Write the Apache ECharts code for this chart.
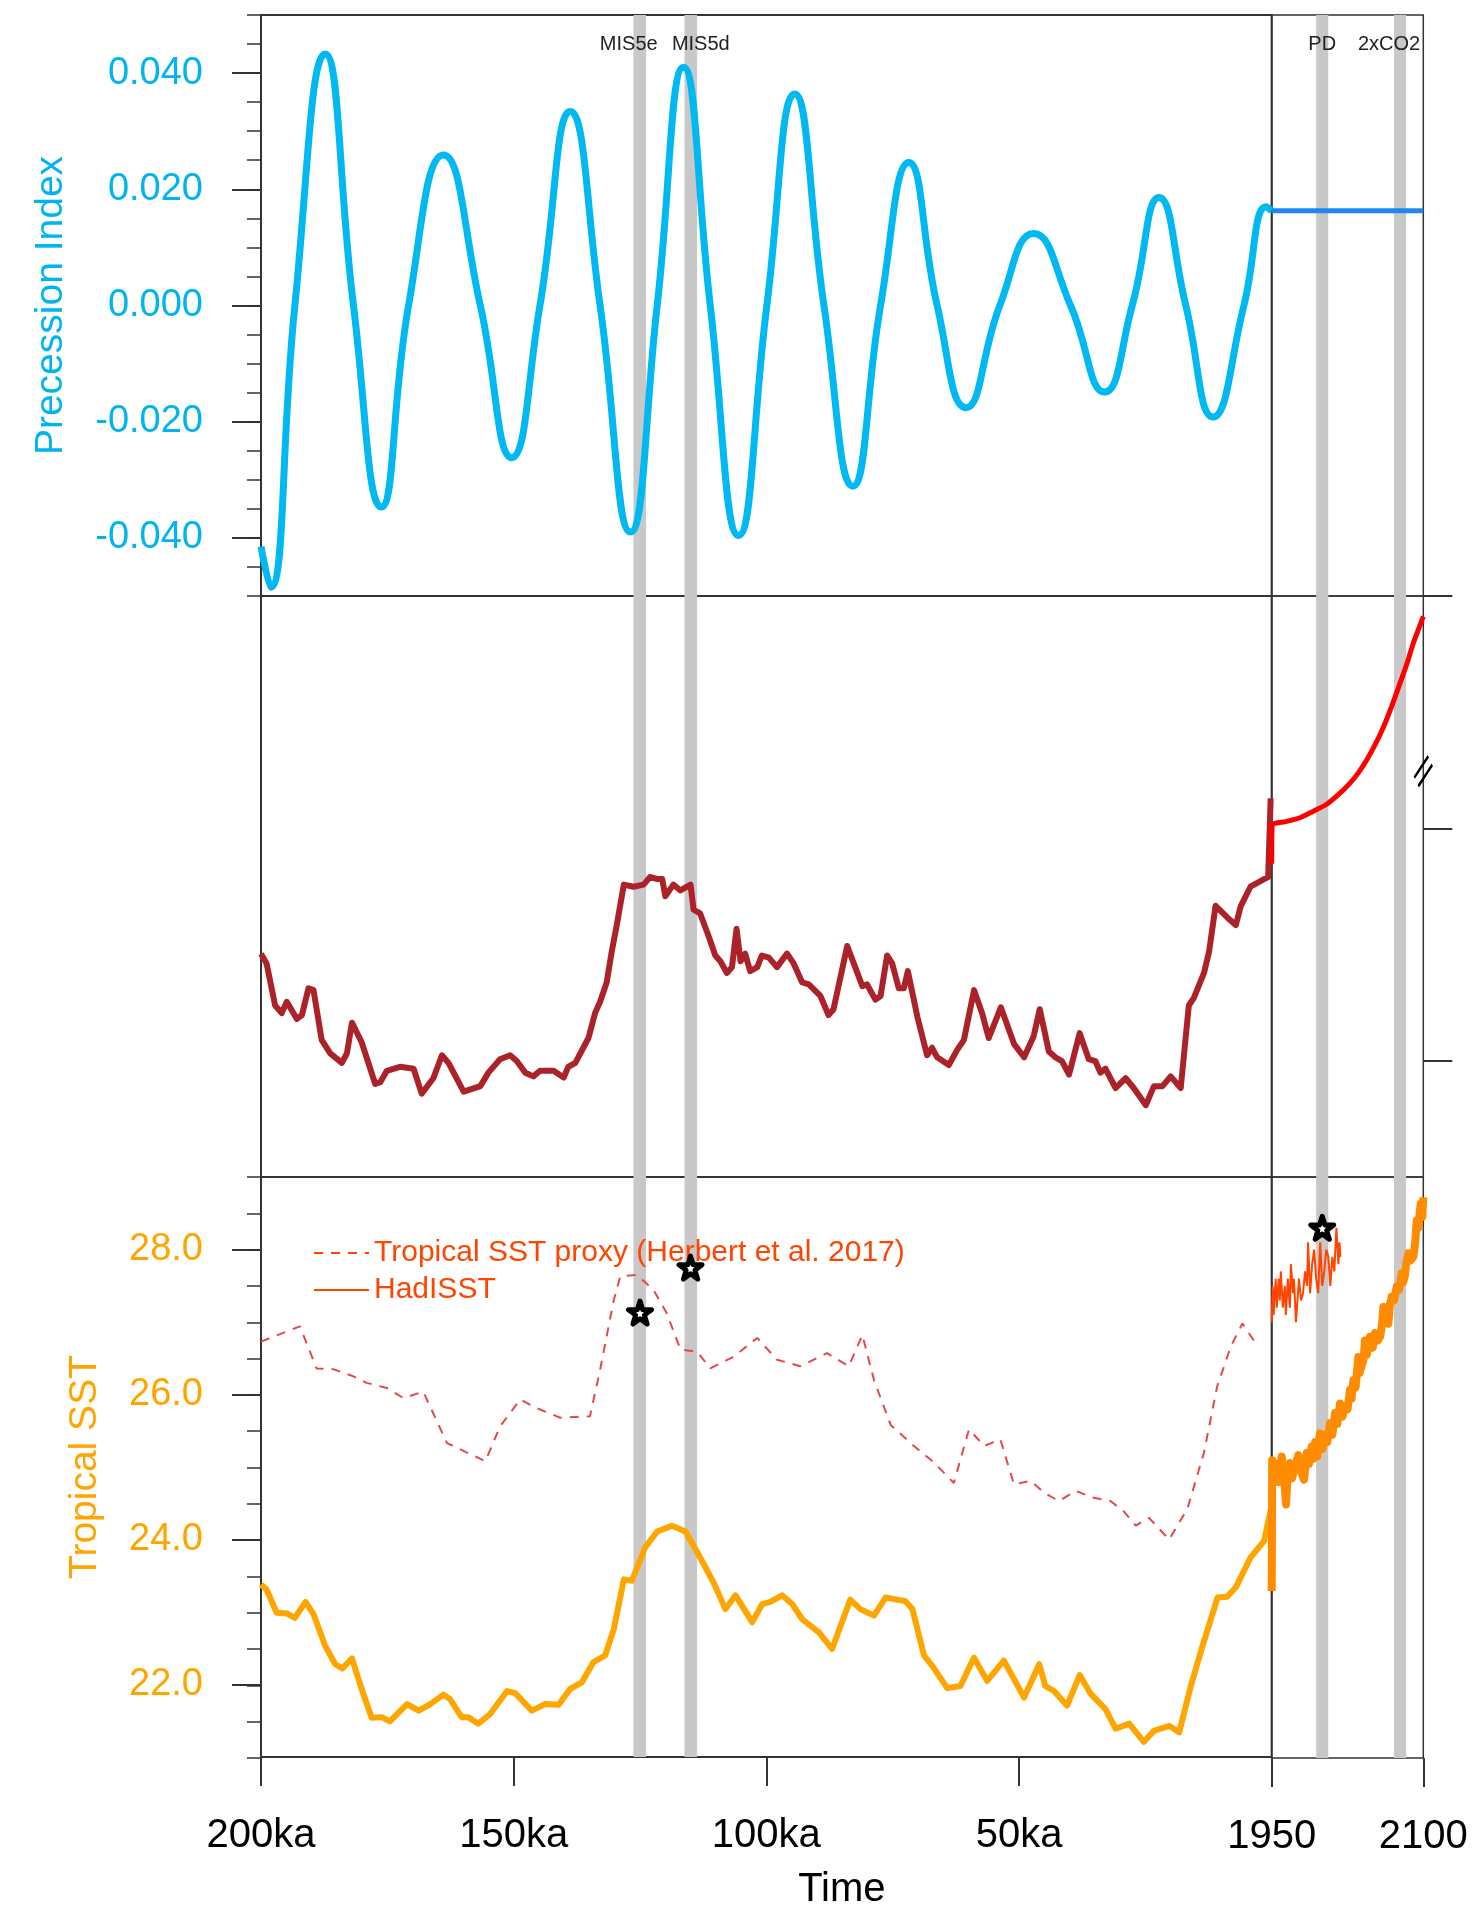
<!DOCTYPE html>
<html>
<head>
<meta charset="utf-8">
<script src="https://cdn.jsdelivr.net/npm/echarts@6/dist/echarts.min.js"></script>
<style>
html,body{margin:0;padding:0;background:#fff;}
#chart{width:1481px;height:1911px;}
</style>
</head>
<body>
<div id="chart"></div>
<script>
// ---------------- DATA ----------------
// Precession index, paleo part: [age ka, value]
const precession = [
  [200,-0.0415],[198.1,-0.0485],[193.3,0],[187.3,0.0433],[181.7,0],[176.2,-0.0347],
  [170.8,0],[163.9,0.0259],[156.6,0],[150.4,-0.0262],[144.8,0],[138.8,0.0334],
  [132.9,0],[126.9,-0.0390],[121.6,0],[116.4,0.0410],[111.1,0],[105.5,-0.0396],
  [99.9,0],[94.4,0.0364],[88.6,0],[82.9,-0.0311],[77.4,0],[71.8,0.0246],
  [66.2,0],[60.5,-0.0176],[53.8,0],[47.1,0.0124],[39.8,0],[33.1,-0.0149],
  [27.6,0],[22.3,0.0186],[17.0,0],[11.6,-0.0192],[5.5,0],[1.1,0.0170],[0,0.0163]
];
// Precession, 1950-2100: [year, value]
const precessionFuture = [[1950,0.0163],[2100,0.0163]];

// Middle panel (unlabelled axis), paleo part: [age ka, value]
const co2Paleo = [
  [200,246.1],[198.9,241.9],[197.2,223.8],[195.9,220.5],[194.9,225.4],[192.9,218.0],[191.9,219.7],
  [190.6,231.2],[189.6,230.4],[188.0,209.0],[186.3,203.2],[184.0,199.1],[183.0,203.2],[182.0,216.4],
  [180.1,208.1],[177.4,190.0],[176.4,190.8],[175.1,195.7],[172.5,197.4],[169.8,196.6],[168.2,185.9],
  [165.9,192.5],[164.2,202.4],[162.9,199.1],[159.9,186.7],[156.6,189.1],[155.0,194.9],[152.7,200.7],
  [150.7,202.4],[149.4,199.9],[147.7,194.9],[146.1,193.3],[144.8,195.7],[142.1,195.7],[140.1,192.8],
  [139.2,197.4],[137.8,199.1],[135.2,209.8],[133.9,220.5],[132.9,225.4],[131.6,233.7],[130.6,246.9],
  [129.6,258.4],[128.2,275.8],[126.3,274.9],[124.3,275.8],[123.0,279.1],[121.6,278.2],[120.6,278.2],
  [120.0,270.8],[118.4,275.8],[117.0,273.3],[115.0,275.8],[114.4,265.0],[113.1,263.4],[111.4,253.5],
  [110.1,245.3],[109.1,242.8],[107.8,237.8],[106.8,240.3],[105.9,256.8],[105.1,242.8],[104.2,246.1],
  [103.2,238.6],[101.8,240.3],[100.9,245.3],[99.5,244.4],[97.9,240.3],[95.9,246.1],[94.6,241.9],
  [92.9,233.7],[91.6,232.9],[89.3,227.9],[87.7,219.7],[86.7,222.2],[84.0,249.4],[82.7,241.9],
  [81.0,232.1],[80.1,232.9],[78.4,226.3],[77.4,227.9],[76.1,245.3],[75.1,241.9],[73.8,231.2],
  [72.8,231.2],[72.0,238.6],[70.1,218.8],[68.2,202.4],[67.2,205.6],[66.2,201.5],[63.9,198.2],
  [62.2,204.8],[60.9,209.0],[58.9,230.4],[57.3,220.5],[56.0,209.8],[53.6,223.0],[51.0,207.3],
  [49.0,201.5],[47.1,210.6],[45.9,222.2],[44.1,204.0],[42.8,201.5],[41.5,199.9],[40.1,194.1],
  [38.0,211.9],[36.2,200.7],[34.9,199.9],[33.9,194.9],[32.9,196.6],[30.9,188.3],[28.9,192.5],
  [27.3,188.3],[24.9,180.9],[23.3,189.1],[21.6,189.1],[20.0,193.3],[18.0,188.3],[16.4,223.8],
  [15.4,227.1],[13.4,237.8],[12.4,246.9],[11.1,266.7],[8.8,261.7],[7.1,258.4],[6.1,266.7],
  [4.2,274.9],[1.5,278.2],[0.7,279.1],[0.2,312.9]
];
// Middle panel, 1950-2100: [year, value]
const co2Future = [
  [1950,284.8],[1950.4,301.0],[1964.8,303.0],[1978.0,304.6],[1991.2,307.4],[2004.4,310.4],
  [2015.9,314.5],[2027.5,319.5],[2035.7,323.9],[2044.0,329.4],[2052.2,335.9],[2060.4,343.4],
  [2068.7,352.5],[2076.9,362.4],[2083.6,370.6],[2090.1,379.7],[2095.0,385.4],[2100,391.2]
];
const co2TickValues = [200, 300, 400];
const co2BreakAt = [2100, 324.6];

// Tropical SST (model), paleo: [age ka, degC]
const sstPaleo = [
  [200,23.38],[198.9,23.31],[196.9,22.99],[194.9,22.98],[193.3,22.92],[191.2,23.14],[189.6,22.97],
  [187.3,22.53],[185.3,22.28],[183.9,22.22],[182.0,22.36],[180.1,21.94],[178.1,21.54],[176.1,21.55],
  [174.5,21.49],[171.1,21.73],[168.8,21.64],[166.5,21.73],[163.9,21.86],[162.6,21.80],[160.3,21.55],
  [159.0,21.55],[157.0,21.46],[154.7,21.59],[151.3,21.91],[149.7,21.88],[146.4,21.64],[143.8,21.73],
  [141.1,21.72],[138.8,21.94],[136.5,22.03],[134.2,22.31],[131.9,22.40],[130.2,22.76],[128.2,23.45],
  [126.6,23.43],[124.0,23.89],[121.6,24.11],[118.7,24.19],[116.0,24.11],[113.4,23.79],[110.4,23.40],
  [108.1,23.04],[106.1,23.23],[102.8,22.86],[100.8,23.11],[99.2,23.14],[96.9,23.23],[94.9,23.11],
  [92.9,22.90],[89.6,22.72],[87.0,22.49],[85.3,22.81],[83.4,23.17],[81.4,23.04],[78.7,22.95],
  [76.4,23.20],[72.5,23.15],[71.1,23.04],[68.8,22.40],[67.2,22.26],[64.2,21.95],[61.6,21.98],
  [58.9,22.37],[56.3,22.05],[53.0,22.33],[49.0,21.82],[46.0,22.28],[44.8,21.98],[43.1,21.91],
  [40.5,21.71],[38.0,22.13],[35.8,21.87],[32.9,21.66],[30.9,21.39],[28.2,21.46],[25.3,21.21],
  [23.3,21.36],[20.3,21.43],[18.3,21.34],[16.0,21.98],[13.7,22.53],[10.7,23.20],[8.8,23.21],
  [7.1,23.34],[4.2,23.75],[1.5,23.98],[0.2,24.41]
];
// Tropical SST proxy (Herbert et al. 2017): [age ka, degC]
const sstProxy = [
  [200,26.73],[192.3,26.94],[189.0,26.36],[185.7,26.35],[181.7,26.25],[179.1,26.16],[175.1,26.09],
  [171.8,25.95],[167.9,26.04],[163.2,25.33],[155.6,25.08],[152.7,25.56],[148.7,25.93],[145.4,25.81],
  [140.8,25.68],[134.9,25.70],[132.9,26.34],[130.2,27.30],[128.9,27.63],[125.6,27.65],[122.3,27.44],
  [119.7,27.12],[117.0,26.62],[113.7,26.59],[111.1,26.36],[106.5,26.52],[101.8,26.78],[97.9,26.48],
  [93.3,26.39],[88.0,26.57],[83.7,26.39],[81.0,26.82],[78.7,26.20],[75.4,25.58],[70.8,25.29],
  [66.8,25.06],[62.9,24.78],[59.9,25.52],[56.9,25.29],[53.7,25.38],[51.0,24.76],[47.7,24.81],
  [45.1,24.65],[42.1,24.53],[38.8,24.67],[35.5,24.58],[31.9,24.53],[29.3,24.39],[26.9,24.19],
  [24.3,24.30],[20.3,24.00],[16.7,24.42],[13.4,25.20],[10.8,26.11],[8.1,26.66],[5.8,26.98],[3.2,26.71]
];
// Tropical SST (model), 1950-2100: [year, degC]
const sstModern = [
  [1950,23.30],[1950.5,25.10],[1953,24.85],[1955,25.05],[1957,24.80],[1959.9,25.15],[1962,24.90],
  [1964.2,24.49],[1966,24.95],[1968,25.06],[1970,24.85],[1973,25.00],[1976.4,25.17],[1979,24.95],
  [1982,24.83],[1984.7,25.20],[1987,25.05],[1989.6,25.29],[1991,25.12],[1993,25.35],[1995,25.15],
  [1997.8,25.47],[2000,25.25],[2002.8,25.45],[2005,25.35],[2007.7,25.61],[2010,25.45],[2012.7,25.75],
  [2015,25.60],[2017.6,25.88],[2020,25.70],[2022.5,25.85],[2025,25.80],[2027.5,26.07],[2029,25.95],
  [2030.8,26.20],[2033,26.10],[2035.7,26.52],[2037,26.30],[2039,26.40],[2041,26.50],[2042.3,26.75],
  [2044,26.55],[2047.3,26.80],[2050,26.65],[2052.2,26.85],[2055,26.75],[2057.2,26.80],[2059,26.95],
  [2060.5,27.21],[2063,27.00],[2065.4,26.98],[2067,27.25],[2068.7,27.35],[2071,27.30],[2073.7,27.49],
  [2076,27.45],[2078.6,27.67],[2080,27.55],[2081.9,27.65],[2083,27.80],[2085.2,27.95],[2087,27.85],
  [2090.1,27.90],[2092,28.10],[2093.5,28.40],[2095,28.30],[2097.4,28.63],[2099,28.45],[2100,28.72]
];
// HadISST: [year, degC]
const hadisst = [
  [1950,27.0],[1951,27.5],[1952,27.1],[1953,27.4],[1954,27.6],[1955,27.2],[1957,27.6],[1958,27.3],
  [1959,27.7],[1961,27.2],[1963,27.5],[1964,27.1],[1966,27.6],[1968,27.2],[1969,27.8],[1971,27.4],
  [1972,27.6],[1974,27.0],[1976,27.4],[1977,27.6],[1979,27.3],[1981,27.4],[1983,27.7],[1985,27.5],
  [1986,28.1],[1988,27.4],[1990,27.8],[1992,28.0],[1994,27.6],[1996,27.4],[1998,28.1],[2000,27.5],
  [2002,27.7],[2004,28.0],[2006,27.9],[2008,27.5],[2010,27.9],[2012,27.7],[2014,28.3],[2016,27.8],
  [2017,28.1],[2018,27.9]
];
// Star markers
const starsPaleo = [[125,27.13],[115,27.75]];
const starsModern = [[2000,28.30]];

// Shaded time slices
const paleoBandNames = ['MIS5e','MIS5d'];
const paleoBandRanges = [[123.8,126.3],[113.7,116.2]];
const modernBandNames = ['PD','2xCO2'];
const modernBandRanges = [[1994,2006],[2071,2083]];

// Axis ticks / labels
const precMajorTicks = [-0.04,-0.02,0,0.02,0.04];
const sstMajorTicks = [22,24,26,28];
const paleoTickStep = 50;   // ka
const modernTickStep = 150; // years

// ---------------- CHART ----------------
const FONT = '"Liberation Sans", Arial, Helvetica, sans-serif';
const LEFT = 261, WP = 1010.7, WM = 151.6, H = 581;
const TOPS = [15, 596, 1177];
const INK = '#333';
const BAND = '#c8c8c8';
const labelOffsets = {MIS5e:[-11,14], MIS5d:[10,14], PD:[0,14], '2xCO2':[-11,14]};
const NOLINE = {show: false, onZero: false};

function bandArea(names, ranges, withLabels, axisKey) {
  return {
    silent: true,
    itemStyle: {color: BAND, opacity: 1},
    label: {show: false},
    data: ranges.map((r, i) => [
      {
        [axisKey]: r[0],
        name: names[i],
        label: withLabels ? {
          show: true, position: 'insideTop', color: '#222', fontSize: 20,
          fontFamily: FONT, offset: labelOffsets[names[i]]
        } : {show: false}
      },
      {[axisKey]: r[1]}
    ])
  };
}

// grids 0-2: paleo part of each panel; grids 3-5: 1950-2100 part; grids 6-7: overlays for minor ticks
const grids = [];
for (let p = 0; p < 3; p++) {
  grids.push({left: LEFT, top: TOPS[p], width: WP, height: H, show: true,
    borderColor: INK, borderWidth: 2, backgroundColor: 'transparent'});
}
for (let p = 0; p < 3; p++) {
  grids.push({left: LEFT + WP, top: TOPS[p], width: WM, height: H, show: true,
    borderColor: INK, borderWidth: 1.5, backgroundColor: 'transparent'});
}
grids.push({left: LEFT, top: TOPS[0], width: WP, height: H, show: false});
grids.push({left: LEFT, top: TOPS[2], width: WP, height: H, show: false});

const xAxes = [];
for (let p = 0; p < 3; p++) {
  const bottom = p === 2;
  xAxes.push({
    type: 'value', gridIndex: p, inverse: true, min: 0, max: 200, interval: paleoTickStep,
    axisLine: NOLINE, splitLine: {show: false},
    axisTick: {show: bottom, length: 29, lineStyle: {color: INK, width: 2}},
    axisLabel: {show: bottom, margin: 59, fontSize: 40, color: '#000', fontFamily: FONT,
      formatter: v => v === 0 ? '' : v + 'ka'},
    name: bottom ? 'Time' : '', nameLocation: 'middle', nameGap: 113,
    nameTextStyle: {fontSize: 40, color: '#000', fontFamily: FONT, padding: [0, 0, 0, 151]}
  });
}
for (let p = 0; p < 3; p++) {
  const bottom = p === 2;
  xAxes.push({
    type: 'value', gridIndex: 3 + p, min: 1950, max: 2100, interval: modernTickStep,
    axisLine: NOLINE, splitLine: {show: false},
    axisTick: {show: bottom, length: 29, lineStyle: {color: INK, width: 2}},
    axisLabel: {show: bottom, margin: 59, fontSize: 40, color: '#000', fontFamily: FONT,
      formatter: v => String(v)}
  });
}
// overlay x axes (hidden)
xAxes.push({type: 'value', gridIndex: 6, inverse: true, min: 0, max: 200, show: false, axisLine: NOLINE});
xAxes.push({type: 'value', gridIndex: 7, inverse: true, min: 0, max: 200, show: false, axisLine: NOLINE});

const yAxes = [
  // 0: precession major (grid 0)
  {type: 'value', gridIndex: 0, min: -0.05, max: 0.05, position: 'left',
   axisLine: NOLINE, splitLine: {show: false},
   axisTick: {show: true, length: 29, customValues: precMajorTicks, lineStyle: {color: INK, width: 2}},
   axisLabel: {show: true, margin: 58, fontSize: 38, color: '#00b4f0', fontFamily: FONT,
     customValues: precMajorTicks, formatter: v => v.toFixed(3)},
   name: 'Precession Index', nameLocation: 'middle', nameGap: 190,
   nameTextStyle: {fontSize: 39, color: '#00b4f0', fontFamily: FONT}},
  // 1: precession minor ticks (overlay grid 6)
  {type: 'value', gridIndex: 6, min: -0.05, max: 0.05, interval: 0.005, position: 'left',
   axisLine: NOLINE, splitLine: {show: false}, axisLabel: {show: false},
   axisTick: {show: true, length: 14, lineStyle: {color: INK, width: 1.5}}},
  // 2: precession modern (grid 3)
  {type: 'value', gridIndex: 3, min: -0.05, max: 0.05, show: false, axisLine: NOLINE},
  // 3: middle panel paleo (grid 1)
  {type: 'value', gridIndex: 1, min: 150, max: 400, show: false, axisLine: NOLINE},
  // 4: middle panel modern, right ticks (grid 4)
  {type: 'value', gridIndex: 4, min: 150, max: 400, position: 'right',
   axisLine: NOLINE, splitLine: {show: false}, axisLabel: {show: false},
   axisTick: {show: true, length: 29, customValues: co2TickValues, lineStyle: {color: INK, width: 2}}},
  // 5: SST major (grid 2)
  {type: 'value', gridIndex: 2, min: 21, max: 29, position: 'left',
   axisLine: NOLINE, splitLine: {show: false},
   axisTick: {show: true, length: 29, customValues: sstMajorTicks, lineStyle: {color: INK, width: 2}},
   axisLabel: {show: true, margin: 58, fontSize: 38, color: '#ffa500', fontFamily: FONT,
     customValues: sstMajorTicks, formatter: v => v.toFixed(1)},
   name: 'Tropical SST', nameLocation: 'middle', nameGap: 156,
   nameTextStyle: {fontSize: 39, color: '#ffa500', fontFamily: FONT}},
  // 6: SST minor ticks (overlay grid 7)
  {type: 'value', gridIndex: 7, min: 21, max: 29, interval: 0.5, position: 'left',
   axisLine: NOLINE, splitLine: {show: false}, axisLabel: {show: false},
   axisTick: {show: true, length: 14, lineStyle: {color: INK, width: 1.5}}},
  // 7: SST modern (grid 5)
  {type: 'value', gridIndex: 5, min: 21, max: 29, show: false, axisLine: NOLINE}
];

const STAR = 'path://M50,2 L61,36 L97,36 L68,57 L79,92 L50,71 L21,92 L32,57 L3,36 L39,36 Z';
const BREAK = 'path://M0,22 L14,2 M4,30 L18,10';

const series = [
  {name: 'precession', type: 'line', xAxisIndex: 0, yAxisIndex: 0, data: precession,
   smooth: 0.5, symbol: 'none', lineStyle: {color: '#00b9f2', width: 7}, z: 3,
   markArea: bandArea(paleoBandNames, paleoBandRanges, true, 'xAxis')},
  {name: 'precessionFuture', type: 'line', xAxisIndex: 3, yAxisIndex: 2, data: precessionFuture,
   symbol: 'none', lineStyle: {color: '#1e88f0', width: 5}, z: 3,
   markArea: bandArea(modernBandNames, modernBandRanges, true, 'xAxis')},
  {name: 'co2Paleo', type: 'line', xAxisIndex: 1, yAxisIndex: 3, data: co2Paleo,
   symbol: 'none', lineStyle: {color: '#ac2229', width: 6, join: 'round'}, z: 3,
   markArea: bandArea(paleoBandNames, paleoBandRanges, false, 'xAxis')},
  {name: 'co2Future', type: 'line', xAxisIndex: 4, yAxisIndex: 4, data: co2Future,
   smooth: 0.3, symbol: 'none', lineStyle: {color: '#ff0000', width: 5}, z: 3,
   markArea: bandArea(modernBandNames, modernBandRanges, false, 'xAxis'),
   markPoint: {silent: true, symbol: BREAK, symbolSize: [18, 30],
     itemStyle: {color: 'none', borderColor: '#000', borderWidth: 2.5},
     label: {show: false}, data: [{coord: co2BreakAt}]}},
  {name: 'sstPaleo', type: 'line', xAxisIndex: 2, yAxisIndex: 5, data: sstPaleo,
   symbol: 'none', lineStyle: {color: '#ffa500', width: 6, join: 'round'}, z: 3,
   markArea: bandArea(paleoBandNames, paleoBandRanges, false, 'xAxis')},
  {name: 'Tropical SST proxy (Herbert et al. 2017)', type: 'line', xAxisIndex: 2, yAxisIndex: 5,
   data: sstProxy, symbol: 'none', z: 3,
   lineStyle: {color: '#e5484a', width: 2, type: [9, 8]}},
  {name: 'sstModern', type: 'line', xAxisIndex: 5, yAxisIndex: 7, data: sstModern,
   symbol: 'none', lineStyle: {color: '#ff8c00', width: 8, join: 'round'}, z: 3,
   markArea: bandArea(modernBandNames, modernBandRanges, false, 'xAxis')},
  {name: 'HadISST', type: 'line', xAxisIndex: 5, yAxisIndex: 7, data: hadisst,
   symbol: 'none', lineStyle: {color: '#ff4500', width: 2}, z: 4},
  {name: 'starsPaleo', type: 'scatter', xAxisIndex: 2, yAxisIndex: 5, data: starsPaleo,
   symbol: STAR, symbolSize: 23, z: 6,
   itemStyle: {color: '#fff', borderColor: '#000', borderWidth: 5, borderJoin: 'round', opacity: 1}},
  {name: 'starsModern', type: 'scatter', xAxisIndex: 5, yAxisIndex: 7, data: starsModern,
   symbol: STAR, symbolSize: 23, z: 6,
   itemStyle: {color: '#fff', borderColor: '#000', borderWidth: 5, borderJoin: 'round', opacity: 1}}
];

const chart = echarts.init(document.getElementById('chart'), null, {renderer: 'canvas'});
chart.setOption({
  animation: false,
  backgroundColor: '#fff',
  textStyle: {fontFamily: FONT},
  grid: grids,
  xAxis: xAxes,
  yAxis: yAxes,
  legend: {
    show: true, orient: 'vertical', left: 308, top: 1233,
    itemWidth: 55, itemHeight: 14, itemGap: 7,
    itemStyle: {opacity: 0},
    textStyle: {fontSize: 30, color: '#ff4500', fontFamily: FONT},
    data: [
      {name: 'Tropical SST proxy (Herbert et al. 2017)', lineStyle: {color: '#ff4500'}},
      {name: 'HadISST'}
    ]
  },
  series: series
});
</script>
</body>
</html>
